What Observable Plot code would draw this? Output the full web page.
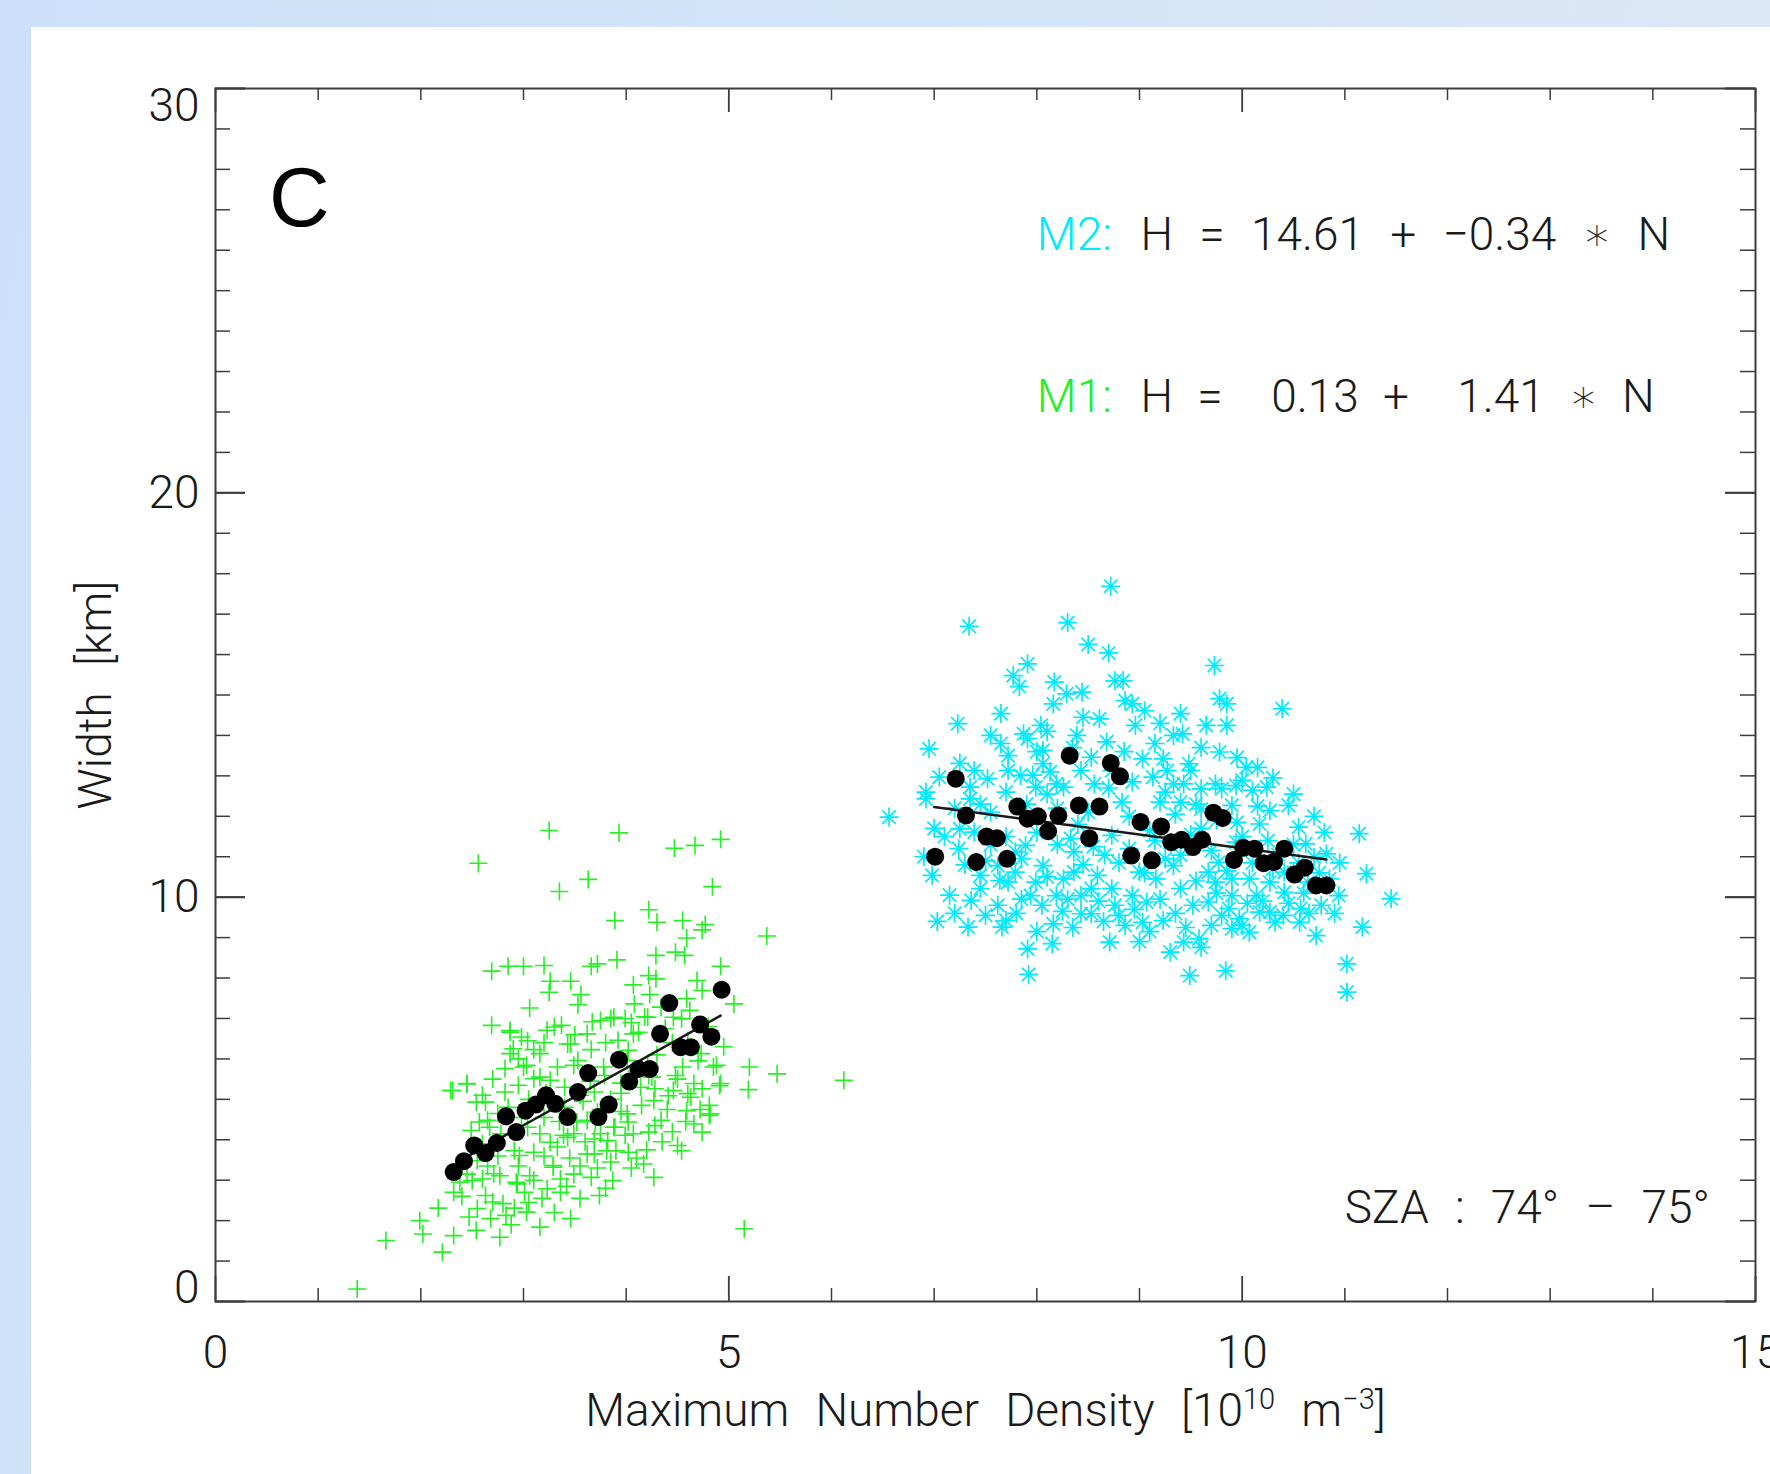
<!DOCTYPE html>
<html><head><meta charset="utf-8">
<script src="https://cdn.jsdelivr.net/npm/d3@7"></script>
<script src="https://cdn.jsdelivr.net/npm/@observablehq/plot@0.6"></script>
<style>
html,body{margin:0;padding:0;width:1770px;height:1474px;overflow:hidden;}
body{background:linear-gradient(100deg,#cce1f9 0%,#d5e5f7 55%,#dde8f4 100%);position:relative;}
#panel{position:absolute;left:31px;top:27px;right:0;bottom:0;background:#fff;}
#chart{position:absolute;left:0;top:0;}
</style></head><body><div id="panel"></div><div id="chart"></div>
<script>
// ---------- data ----------
const m1Scatter = [
[3.25,11.65],[3.93,11.59],[4.47,11.21],[4.67,11.28],[4.92,11.43],[2.56,10.84],[3.63,10.44],[3.35,10.14],[4.84,10.26],[3.89,9.42],[4.22,9.69],[4.30,9.38],[4.55,9.42],[4.77,9.32],[4.74,9.19],[5.37,9.04],[4.59,8.99],[4.48,8.64],[4.57,8.56],[4.29,8.56],[3.91,8.45],[3.66,8.29],[3.72,8.35],[3.20,8.31],[3.00,8.29],[2.85,8.29],[2.69,8.17],[4.92,8.29],[4.22,8.06],[4.29,7.98],[4.69,7.94],[4.74,7.69],[3.26,7.92],[3.46,7.92],[3.25,7.65],[3.56,7.59],[4.07,7.83],[5.05,7.36],[3.06,7.26],[3.53,7.34],[4.08,7.36],[4.23,7.59],[4.59,7.49],[2.69,6.83],[2.87,6.66],[2.98,6.54],[3.37,6.83],[3.23,6.71],[3.67,6.92],[3.85,7.0],[3.99,7.0],[4.12,6.66],[4.18,7.04],[4.54,6.99],[3.46,6.37],[3.66,6.23],[2.90,6.25],[3.10,6.23],[3.92,6.46],[4.02,6.21],
[1.38,0.31],[1.66,1.51],[2.21,1.22],[1.99,2.0],[2.02,1.67],[2.17,2.31],[2.32,1.63],[2.32,2.70],[2.47,2.09],[2.54,1.76],[2.77,1.59],[2.50,2.99],[2.63,2.62],[2.80,2.42],[2.91,2.31],[3.01,2.70],[3.16,1.84],[3.46,2.05],[5.15,1.80],[3.74,2.62],[3.87,2.99],[4.27,3.07],[4.17,3.40],[4.54,3.73],[4.50,3.86],[4.02,3.69],[3.90,3.73],[3.69,3.65],[3.29,3.36],[3.36,3.03],[3.49,3.15],[3.66,3.07],[2.93,2.95],[3.06,3.11],[2.77,3.11],[2.60,3.03],[3.23,2.79],[3.36,2.70],[2.70,2.46],[2.83,2.13],[3.03,2.21],[4.66,4.39],[4.81,4.60],[4.59,4.72],[4.63,5.05],[4.74,5.26],[4.91,5.34],[5.20,5.80],[5.47,5.63],[6.12,5.47],[5.19,5.24],[4.88,5.84],[4.22,4.19],[4.28,4.35],[4.02,4.44],[3.99,4.11],[3.82,3.98],[3.69,4.02],[3.43,4.06],[3.26,3.94],[3.10,3.69],[2.96,3.61],[2.67,4.31],[2.49,4.23],[2.57,4.44],[2.63,4.93],[2.54,4.93],[2.31,5.22],[2.45,5.38],[2.82,5.76],[2.82,5.18],[3.10,5.51],[3.03,5.84],[3.26,5.47],[3.49,5.84],[3.39,4.11],[3.52,4.44],[3.72,4.68],[3.89,4.31],[4.28,5.26],[4.41,5.09],[4.48,5.59],[4.22,5.59],[3.79,5.59],[3.69,5.18],[4.74,4.19],[4.81,4.85],
[2.87,6.70],[3.04,6.45],[3.16,6.13],[3.30,6.79],[3.43,6.37],[3.53,5.96],[3.62,6.62],[3.75,6.95],[3.88,7.03],[4.07,6.62],[4.21,7.03],[4.34,7.28],[4.46,7.03],[4.60,6.45],[4.73,6.13],[4.85,5.80],[4.92,5.39],[4.66,5.39],[4.46,5.22],[4.27,4.97],[4.14,5.30],[4.01,4.64],[3.88,4.31],[3.75,4.15],[3.62,4.48],[3.49,4.15],[3.33,3.82],[3.16,4.15],[3.04,4.31],[2.91,3.73],[2.78,4.15],[2.65,4.48],[2.55,3.48],[2.71,3.16],[2.94,2.91],[3.29,3.32],[3.62,3.65],[3.81,3.73],[4.07,4.15],[4.34,4.48],[4.60,5.14],[4.82,4.64],[2.29,5.22],[2.45,5.39],[2.87,6.13],[3.00,5.80],[3.16,5.55],[3.33,5.80],[3.78,5.80],[4.01,5.96],[4.21,5.88],
[2.60,3.90],[2.75,3.60],[2.95,3.35],[3.10,3.00],[3.20,4.55],[3.40,4.80],[3.55,5.10],[3.70,4.45],[3.85,5.00],[3.95,5.40],[4.10,5.70],[4.30,6.10],[4.45,6.40],[4.55,5.80],[4.70,5.95],[3.45,3.55],[3.60,3.95],[3.20,3.60],[2.85,4.80],[3.05,5.00],
[2.40,2.60],[2.55,2.30],[2.68,2.05],[2.88,1.90],[3.05,2.45],[3.18,2.55],[3.30,2.20],[3.42,2.85],[3.55,3.35],[3.72,3.30],[3.85,3.45],[4.05,3.30],[4.20,3.75],[4.35,3.95],[4.45,4.20],[4.58,4.45],[4.72,4.75],[4.40,4.75],[4.15,4.85],[3.95,4.70],[3.75,4.75],[3.58,4.95],[3.35,4.45],[3.15,4.90],[2.98,4.55],[2.75,4.65],[2.60,5.10],[2.70,5.50],[2.95,6.00],[3.20,6.40],[3.50,6.60],[3.80,6.40],[4.05,6.90],[4.38,6.75],[4.62,7.20],[4.80,6.80],[4.95,6.30],[4.50,5.50],[4.25,5.55],[3.95,5.15],[3.65,5.45],[3.40,5.30],[3.22,5.15],[2.95,5.35],[2.65,3.35],[2.45,3.15],[2.38,2.95],[3.55,2.55],[3.80,2.80],[4.10,3.55]
];
const m2Scatter = [
[8.72,17.69],[7.34,16.70],[8.30,16.79],[8.50,16.25],[8.70,16.04],[9.73,15.73],[7.91,15.77],[7.77,15.48],[7.83,15.21],[8.17,15.32],[8.29,15.03],[8.44,15.07],[8.16,14.78],[8.76,15.35],[8.84,15.35],[8.86,14.86],[8.93,14.78],[9.05,14.61],[9.78,14.91],[9.85,14.78],[10.39,14.66],[7.65,14.54],[7.23,14.29],[8.61,14.41],[8.04,14.25],[8.96,14.25],[9.40,14.54],[9.65,14.25],[9.85,14.25],[7.87,14.04],[8.39,14.00],[9.33,14.00],[9.42,14.04],[6.95,13.67],[7.65,13.80],[7.91,13.92],[8.06,13.63],[8.68,13.84],[9.78,13.59],[7.25,13.31],[7.05,12.97],[7.52,12.93],[7.72,13.50],[7.72,13.13],[7.84,13.01],[8.43,13.13],[8.53,13.46],[9.03,13.42],[9.23,13.42],[9.48,13.30],[9.50,13.13],[10.04,13.21],[10.15,13.21],[6.92,12.60],[7.35,12.72],[7.99,12.72],[8.19,12.80],[8.93,12.85],[9.33,12.80],[9.60,12.68],[9.80,12.68],[9.94,12.76],[10.24,12.72],
[7.96,13.02],[8.13,13.10],[8.26,12.72],[8.56,12.80],[8.73,13.13],[9.13,12.97],[9.27,13.13],[9.43,12.80],[9.74,12.80],[10.00,12.89],[10.10,12.64],[7.39,13.13],[8.06,13.30],
[6.56,11.98],[6.92,12.43],[7.35,12.43],[6.98,10.54],[7.24,11.20],[7.03,9.40],[7.33,9.26],[7.36,9.92],[7.45,10.21],[7.62,9.80],[7.66,9.26],[7.70,9.42],[7.64,10.41],[7.79,10.62],[7.91,8.72],[7.92,8.09],[7.94,10.04],[8.06,10.78],[8.16,9.34],[8.19,10.04],[8.26,10.45],[8.36,11.12],[8.43,9.59],[8.53,9.59],[8.53,10.21],[8.59,10.54],[8.71,8.89],[8.76,9.80],[8.86,9.30],[8.93,10.04],[9.00,10.62],[9.03,9.38],[9.23,9.42],[9.30,8.64],[9.33,10.78],[9.43,8.89],[9.49,8.06],[9.52,9.80],[9.58,8.97],[9.60,8.76],[9.74,10.37],[9.84,8.18],[9.87,9.72],[9.90,9.22],[9.97,9.47],[10.07,9.13],[10.14,10.04],[10.17,9.63],[10.27,9.63],[10.32,9.38],[10.41,10.12],[10.56,9.38],[10.57,9.72],[10.72,9.05],[10.77,9.80],[10.94,10.04],[11.02,8.35],[11.02,7.65],[11.14,11.57],[11.21,10.58],[11.17,9.26],[11.45,9.96],[10.45,12.27],[10.55,11.73],[10.17,11.81],[10.27,12.14],[10.62,11.32],[10.70,10.99],[10.82,11.07],[10.41,10.62],[10.64,10.37],[9.94,11.36],[9.90,12.27],[9.60,12.18],[9.40,12.35],[9.20,12.35],[8.83,12.35],[8.73,11.53],[8.66,11.04],[8.36,10.62],[7.79,11.12],[7.89,11.28],[7.72,10.37],[7.45,10.54],[7.39,11.61],[7.25,11.69],[8.33,11.45],[9.30,11.36],[9.40,11.04],[9.16,10.45],[9.40,10.21],[9.67,10.62],[9.77,10.86],[10.07,10.45],[10.27,10.37],[9.90,10.04],[9.67,9.88],[9.07,9.88],[8.73,10.21],[8.43,10.04],[7.99,10.37],[7.62,10.78],
[7.50,10.90],[7.70,11.50],[7.85,10.95],[8.00,11.60],[8.10,10.50],[8.20,11.30],[8.45,10.80],[8.55,11.25],[8.80,10.85],[8.90,11.20],[9.05,10.60],[9.10,11.65],[9.25,10.95],[9.50,11.55],[9.55,10.40],[9.70,11.15],[9.85,10.65],[10.00,11.50],[10.10,10.85],[10.35,11.05],[10.50,10.60],[10.60,10.10],[10.85,10.45],[8.05,9.80],[8.30,9.95],[8.60,9.90],[9.20,9.95],[9.35,9.60],[9.80,9.55],[10.05,9.85],[10.45,9.85],[8.90,12.00],[8.50,12.10],[9.35,12.05],[9.75,11.90],[10.15,12.25],[7.55,12.10],[7.90,12.30],[8.20,12.20],[10.70,12.00],
[7.15,10.05],[7.20,9.60],[7.30,10.80],[7.50,9.55],[7.55,11.30],[7.80,9.60],[7.85,9.95],[8.00,9.15],[8.15,8.85],[8.25,9.65],[8.35,9.25],[8.40,11.80],[8.65,9.40],[8.70,12.70],[8.80,9.55],[8.95,9.70],[9.00,8.90],[9.10,9.15],[9.15,11.40],[9.25,12.60],[9.45,9.25],[9.55,12.30],[9.60,11.70],[9.70,9.30],[9.75,10.10],[9.90,10.45],[9.95,11.85],[10.00,9.30],[10.20,9.90],[10.25,11.40],[10.30,10.70],[10.40,9.55],[10.50,11.30],[10.55,10.85],[10.65,9.60],[10.75,10.60],[10.90,9.60],[10.95,10.85],[10.80,11.60],[8.10,12.55],[7.70,12.60],[7.45,12.30],[7.20,12.20],[7.10,11.50],[6.90,11.00],[7.00,11.70],[8.00,13.60],[8.35,13.70],[8.85,13.60],[9.15,13.80],[9.60,13.70],[9.95,13.45],[10.30,12.95],[10.50,12.55],[8.45,14.45],[9.20,14.30],[8.10,14.10],[7.55,14.00]
];
const m1Means = [
[2.32,3.20],[2.42,3.47],[2.52,3.86],[2.63,3.67],[2.74,3.92],[2.83,4.58],[2.93,4.19],[3.02,4.72],[3.12,4.87],[3.22,5.10],[3.31,4.89],[3.43,4.56],[3.53,5.18],[3.63,5.65],[3.73,4.56],[3.83,4.87],[3.93,5.98],[4.03,5.44],[4.12,5.75],[4.23,5.75],[4.33,6.62],[4.42,7.38],[4.53,6.29],[4.63,6.29],[4.72,6.85],[4.83,6.55],[4.93,7.71]
];
const m2Means = [
[7.01,11.00],[7.21,12.93],[7.31,12.02],[7.41,10.87],[7.51,11.50],[7.61,11.46],[7.71,10.95],[7.81,12.24],[7.91,11.94],[8.01,12.00],[8.11,11.63],[8.21,12.02],[8.32,13.50],[8.41,12.27],[8.51,11.46],[8.61,12.24],[8.72,13.32],[8.81,12.99],[8.92,11.03],[9.01,11.86],[9.12,10.91],[9.21,11.75],[9.31,11.36],[9.41,11.42],[9.52,11.24],[9.61,11.42],[9.72,12.09],[9.81,11.96],[9.92,10.92],[10.01,11.22],[10.12,11.20],[10.21,10.84],[10.31,10.87],[10.41,11.20],[10.51,10.56],[10.61,10.73],[10.72,10.29],[10.82,10.29]
];
const m1Fit = [[2.35,3.44],[4.92,7.07]];
const m2Fit = [[7.00,12.23],[10.82,10.93]];
const xMajor = [0,5,10,15];
const xMinor = [1,2,3,4,6,7,8,9,11,12,13,14];
const yMajor = [0,10,20,30];
const yMinor = d3.range(1,30).filter(v => v % 10 !== 0);
const panelLabel = ["C"];
const eqM2Label = ["M2:"], eqM2 = ["H = 14.61 + −0.34 ∗ N"];
const eqM1Label = ["M1:"], eqM1 = ["H =  0.13 +  1.41 ∗ N"];
const szaLabel = ["SZA : 74° – 75°"];
const yTitle = ["Width [km]"];
const xTitleParts = [["Maximum Number Density [10",0],["10",1],[" m",0],["−3",1],["]",0]];

// ---------- styling ----------
const GREEN = "#24f024", CYAN = "#00eaff", AXIS = "#3c3c3c", INK = "#1a1a1a";
const W = 1770, H = 1474, ML = 215, MR = 15, MT = 88, MB = 173;
const FW = W - ML - MR, FH = H - MT - MB;
const FONT = "Roboto, 'DejaVu Sans', sans-serif";

const plusSymbol = {draw(c, size){ const r = Math.sqrt(size/Math.PI); c.moveTo(-r,0); c.lineTo(r,0); c.moveTo(0,-r); c.lineTo(0,r); }};
const starSymbol = {draw(c, size){ const r = Math.sqrt(size/Math.PI), d = r*Math.SQRT1_2;
  c.moveTo(-r,0); c.lineTo(r,0); c.moveTo(0,-r); c.lineTo(0,r);
  c.moveTo(-d,-d); c.lineTo(d,d); c.moveTo(-d,d); c.lineTo(d,-d); }};

const txt = {fontFamily: FONT, fontSize: 46, fontWeight: 300, fill: INK};

const svg = Plot.plot({
  width: W, height: H, marginLeft: ML, marginRight: MR, marginTop: MT, marginBottom: MB,
  style: "background:transparent;overflow:visible;white-space:pre;word-spacing:15px;",
  x: {domain: [0, 15], axis: null},
  y: {domain: [0, 30], axis: null},
  marks: [
    Plot.dot(m1Scatter, {x: d => d[0], y: d => d[1], symbol: plusSymbol, r: 9, stroke: GREEN, strokeWidth: 1.6, fill: "none"}),
    Plot.dot(m2Scatter, {x: d => d[0], y: d => d[1], symbol: starSymbol, r: 9.5, stroke: CYAN, strokeWidth: 1.7, fill: "none"}),
    Plot.line(m1Fit, {x: d => d[0], y: d => d[1], stroke: INK, strokeWidth: 2.5}),
    Plot.line(m2Fit, {x: d => d[0], y: d => d[1], stroke: INK, strokeWidth: 2.5}),
    Plot.dot(m1Means, {x: d => d[0], y: d => d[1], r: 9, fill: "#000"}),
    Plot.dot(m2Means, {x: d => d[0], y: d => d[1], r: 9, fill: "#000"}),
    // frame and inward ticks
    Plot.frame({stroke: AXIS, strokeWidth: 2}),
    Plot.tickX(xMinor, {x: d => d, insetTop: FH - 13, stroke: AXIS, strokeWidth: 1.5}),
    Plot.tickX(xMajor, {x: d => d, insetTop: FH - 25, stroke: AXIS, strokeWidth: 1.8}),
    Plot.tickX(xMinor, {x: d => d, insetBottom: FH - 12, stroke: AXIS, strokeWidth: 1.5}),
    Plot.tickX(xMajor, {x: d => d, insetBottom: FH - 24, stroke: AXIS, strokeWidth: 1.8}),
    Plot.tickY(yMinor, {y: d => d, insetRight: FW - 15, stroke: AXIS, strokeWidth: 1.5}),
    Plot.tickY(yMajor, {y: d => d, insetRight: FW - 30, stroke: AXIS, strokeWidth: 2.2}),
    Plot.tickY(yMinor, {y: d => d, insetLeft: FW - 15, stroke: AXIS, strokeWidth: 1.5}),
    Plot.tickY(yMajor, {y: d => d, insetLeft: FW - 30, stroke: AXIS, strokeWidth: 2.2}),
    // tick labels
    Plot.text(xMajor, {x: d => d, text: d => String(d), frameAnchor: "bottom", textAnchor: "middle", lineAnchor: "top", dy: 34, ...txt}),
    Plot.text(yMajor.filter(v => v > 0 && v < 30), {y: d => d, text: d => String(d), frameAnchor: "left", textAnchor: "end", lineAnchor: "middle", dx: -16, ...txt}),
    Plot.text(yMajor.filter(v => v === 0), {y: d => d, text: d => String(d), frameAnchor: "left", textAnchor: "end", lineAnchor: "bottom", dx: -16, dy: 1, ...txt}),
    Plot.text(yMajor.filter(v => v === 30), {y: d => d, text: d => String(d), frameAnchor: "left", textAnchor: "end", lineAnchor: "top", dx: -16, ...txt}),
    // axis titles
    Plot.text(yTitle, {text: d => d, frameAnchor: "left", textAnchor: "middle", dx: -119, rotate: -90, lineAnchor: "middle", ...txt}),
    Plot.text([xTitleParts[0][0]], {text: d => d, frameAnchor: "bottom", textAnchor: "middle", dy: 124, lineAnchor: "bottom", ...txt}),
    // annotations
    Plot.text(panelLabel, {x: 0.52, y: 26.6, text: d => d, textAnchor: "start", lineAnchor: "bottom", fontFamily: "'Liberation Sans', Arial, sans-serif", fontSize: 84, fill: "#000"}),
    Plot.text(eqM2Label, {x: 8.0, y: 26.0, text: d => d, textAnchor: "start", lineAnchor: "bottom", ...txt, fill: CYAN}),
    Plot.text(eqM2, {x: 9.01, y: 26.0, text: d => d, textAnchor: "start", lineAnchor: "bottom", ...txt}),
    Plot.text(eqM1Label, {x: 8.0, y: 22.0, text: d => d, textAnchor: "start", lineAnchor: "bottom", ...txt, fill: GREEN}),
    Plot.text(eqM1, {x: 9.01, y: 22.0, text: d => d, textAnchor: "start", lineAnchor: "bottom", ...txt}),
    Plot.text(szaLabel, {x: 11.0, y: 1.95, text: d => d, textAnchor: "start", lineAnchor: "bottom", ...txt})
  ]
});

// x title with superscripts; tighter spacing in the M1 equation
d3.select(svg).selectAll("text").each(function() {
  if (this.textContent === xTitleParts[0][0]) {
    const sel = d3.select(this); sel.text(null);
    let up = false;
    for (const [s, sup] of xTitleParts) {
      const ts = sel.append("tspan").text(s);
      if (sup) { ts.attr("font-size", 29); if (!up) { ts.attr("dy", -17); up = true; } }
      else if (up) { ts.attr("dy", 17); up = false; }
    }
  } else if (this.textContent === eqM1[0]) {
    this.style.wordSpacing = "13px";
  }
});
document.getElementById("chart").appendChild(svg);
</script></body></html>
